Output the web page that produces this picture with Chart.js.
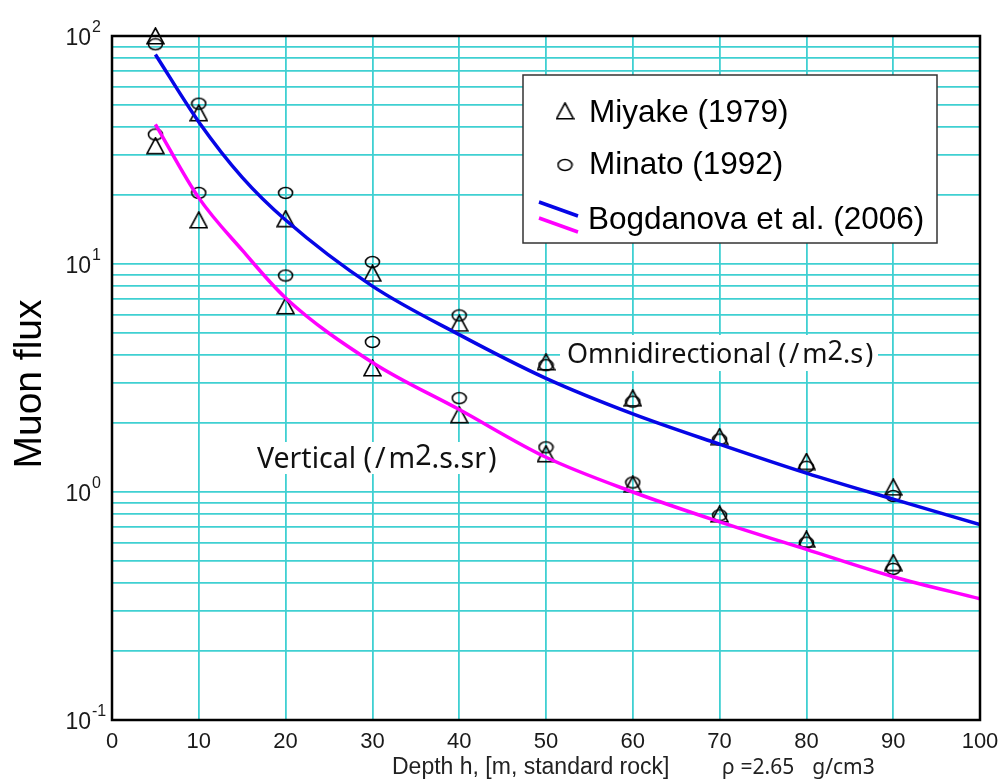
<!DOCTYPE html>
<html>
<head>
<meta charset="utf-8">
<script src="https://cdn.jsdelivr.net/npm/chart.js@4/dist/chart.umd.min.js"></script>
<style>
  html, body { margin: 0; padding: 0; background: #fff; }
  #muon { display: block; }
</style>
</head>
<body>
<canvas id="muon" width="1000" height="781"></canvas>
<script>
// measured depths (m of standard rock)
const depths = [5, 10, 20, 30, 40, 50, 60, 70, 80, 90];
const miyakeOmni = [100, 46, 15.8, 9.1, 5.5, 3.72, 2.58, 1.75, 1.36, 1.05];
const minatoOmni = [92, 50.5, 20.5, 10.2, 5.95, 3.6, 2.49, 1.7, 1.29, 0.96];
const miyakeVert = [33, 15.6, 6.55, 3.5, 2.18, 1.47, 1.08, 0.8, 0.62, 0.49];
const minatoVert = [37, 20.5, 8.9, 4.55, 2.58, 1.57, 1.1, 0.79, 0.6, 0.46];

// Bogdanova et al. (2006) curves
const curveDepths = [5, 10, 15, 20, 30, 40, 50, 60, 70, 80, 90, 100];
const bogdanovaOmni = [83, 42, 24, 15.6, 8.0, 4.9, 3.15, 2.2, 1.62, 1.21, 0.93, 0.72];
const bogdanovaVert = [41, 19.5, 11.5, 7.1, 3.7, 2.3, 1.42, 1.0, 0.74, 0.56, 0.425, 0.34];

const xTicks = [0, 10, 20, 30, 40, 50, 60, 70, 80, 90, 100];
const yDecades = [-1, 0, 1, 2];

const CYAN = '#3fd0d2';
const BLUE = '#0606e6';
const MAGENTA = '#ff00ff';

function triMark() {
  const c = document.createElement('canvas');
  c.width = 19; c.height = 18;
  const g = c.getContext('2d');
  g.strokeStyle = '#000'; g.lineWidth = 1.6;
  g.beginPath(); g.moveTo(9.5, 1); g.lineTo(18, 16.8); g.lineTo(1, 16.8); g.closePath(); g.stroke();
  return c;
}
function circMark() {
  const c = document.createElement('canvas');
  c.width = 17; c.height = 14;
  const g = c.getContext('2d');
  g.strokeStyle = '#000'; g.lineWidth = 1.6;
  g.beginPath(); g.ellipse(8.5, 7, 7, 5.5, 0, 0, Math.PI * 2); g.stroke();
  return c;
}
const tri = triMark(), circ = circMark();

const pts = (xs, ys) => xs.map((x, i) => ({ x: x, y: ys[i] }));

// text pieces: [text, raise, extra gap after]
function runs(ctx, x, y, parts) {
  for (const [t, dy, gap] of parts) {
    ctx.fillText(t, x, y + dy);
    x += ctx.measureText(t).width + (gap || 0);
  }
}

const decor = {
  id: 'decor',
  afterDraw(chart) {
    const ctx = chart.ctx, a = chart.chartArea, ys = chart.scales.y;
    ctx.save();

    // frame
    ctx.strokeStyle = '#000'; ctx.lineWidth = 2.5;
    ctx.strokeRect(a.left, a.top, a.right - a.left, a.bottom - a.top);

    // y tick labels 10^n
    ctx.fillStyle = '#1a1a1a'; ctx.textBaseline = 'alphabetic';
    for (const e of yDecades) {
      const py = ys.getPixelForValue(Math.pow(10, e));
      ctx.font = '23px "Liberation Sans", Arial, sans-serif';
      ctx.textAlign = 'right';
      ctx.fillText('10', 91, py + 9);
      ctx.font = '16px "Liberation Sans", Arial, sans-serif';
      ctx.textAlign = 'left';
      ctx.fillText(String(e), 92, py - 4);
    }

    // y title
    ctx.save();
    ctx.translate(30, 384); ctx.rotate(-Math.PI / 2);
    ctx.fillStyle = '#000'; ctx.textAlign = 'center'; ctx.textBaseline = 'middle';
    ctx.font = '39px "Liberation Sans", Arial, sans-serif';
    ctx.fillText('Muon flux', 0, 0);
    ctx.restore();

    // x title
    ctx.fillStyle = '#222'; ctx.textAlign = 'left'; ctx.textBaseline = 'middle';
    ctx.font = '23px "Liberation Sans", Arial, sans-serif';
    ctx.fillText('Depth h, [m, standard rock]', 392, 768);
    ctx.font = '21px "Noto Sans", sans-serif';
    runs(ctx, 722, 768, [['ρ', 0, 6], ['=2.65', 0, 18], ['g/cm3', 0, 0]]);

    // curve labels
    ctx.textBaseline = 'alphabetic';
    ctx.fillStyle = '#fff';
    ctx.fillRect(560, 335, 318, 36);
    ctx.fillRect(250, 442, 253, 32);
    ctx.fillStyle = '#111';
    ctx.font = '27px "Noto Sans", sans-serif';
    runs(ctx, 567, 363, [['Omnidirectional (', 0, 3], ['/', 0, 3], ['m', 0, 0], ['2', -3, 0], ['.s', 0, 2], [')', 0, 0]]);
    ctx.font = '28.5px "Noto Sans", sans-serif';
    runs(ctx, 257, 468, [['Vertical (', 0, 3], ['/', 0, 3], ['m', 0, 0], ['2', -3, 0], ['.s.sr', 0, 2], [')', 0, 0]]);

    // legend
    ctx.fillStyle = '#fff';
    ctx.fillRect(523, 75, 414, 168);
    ctx.strokeStyle = '#333'; ctx.lineWidth = 1.5;
    ctx.strokeRect(523, 75, 414, 168);
    ctx.drawImage(tri, 565 - 9.5, 111 - 9);
    ctx.drawImage(circ, 565 - 8.5, 165 - 7);
    ctx.lineWidth = 3.5; ctx.lineCap = 'butt';
    ctx.strokeStyle = BLUE;
    ctx.beginPath(); ctx.moveTo(539, 202); ctx.lineTo(578, 216); ctx.stroke();
    ctx.strokeStyle = MAGENTA;
    ctx.beginPath(); ctx.moveTo(539, 218); ctx.lineTo(578, 232); ctx.stroke();
    ctx.fillStyle = '#000';
    ctx.font = '31.5px "Liberation Sans", Arial, sans-serif';
    ctx.fillText('Miyake (1979)', 589, 122);
    ctx.fillText('Minato (1992)', 589, 174);
    ctx.fillText('Bogdanova et al. (2006)', 588, 229);

    ctx.restore();
  }
};

new Chart(document.getElementById('muon'), {
  type: 'scatter',
  data: {
    datasets: [
      { label: 'Bogdanova omni', data: pts(curveDepths, bogdanovaOmni), showLine: true,
        borderColor: BLUE, borderWidth: 3.5, pointRadius: 0, cubicInterpolationMode: 'monotone' },
      { label: 'Bogdanova vertical', data: pts(curveDepths, bogdanovaVert), showLine: true,
        borderColor: MAGENTA, borderWidth: 3.5, pointRadius: 0, cubicInterpolationMode: 'monotone' },
      { label: 'Minato (1992)', data: pts(depths, minatoOmni).concat(pts(depths, minatoVert)),
        pointStyle: circ, pointRadius: 7, clip: false },
      { label: 'Miyake (1979)', data: pts(depths, miyakeOmni).concat(pts(depths, miyakeVert)),
        pointStyle: tri, pointRadius: 8, clip: false }
    ]
  },
  options: {
    responsive: false,
    animation: false,
    layout: { padding: { top: 36, right: 20, left: 0, bottom: 0 } },
    plugins: { legend: { display: false }, tooltip: { enabled: false } },
    scales: {
      x: {
        type: 'linear', min: 0, max: 100,
        afterBuildTicks: s => { s.ticks = xTicks.map(v => ({ value: v })); },
        afterFit: s => { s.height = 61; s.paddingLeft = 0; s.paddingRight = 0; },
        ticks: { color: '#1a1a1a', padding: 9, font: { family: '"Liberation Sans", Arial, sans-serif', size: 22 } },
        grid: { color: CYAN, lineWidth: 1.8, drawTicks: false },
        border: { display: false }
      },
      y: {
        type: 'logarithmic', min: 0.1, max: 100,
        afterBuildTicks: s => {
          const t = [];
          for (let e = -1; e < 2; e++) for (let k = 1; k < 10; k++) t.push({ value: k * Math.pow(10, e) });
          t.push({ value: 100 });
          s.ticks = t;
        },
        afterFit: s => { s.width = 112; },
        ticks: { display: false },
        grid: { color: CYAN, lineWidth: 1.8, drawTicks: false },
        border: { display: false }
      }
    }
  },
  plugins: [decor]
});
</script>
</body>
</html>
